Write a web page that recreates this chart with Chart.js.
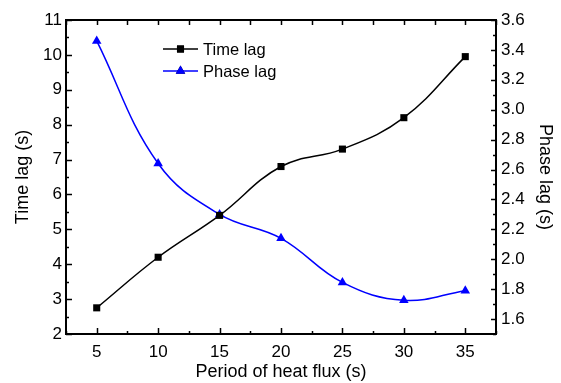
<!DOCTYPE html>
<html>
<head>
<meta charset="utf-8">
<script src="https://cdn.jsdelivr.net/npm/chart.js@4.4.1/dist/chart.umd.min.js"></script>
<style>
  html, body { margin: 0; padding: 0; background: #fff; }
  #wrap { width: 561px; height: 383px; }
</style>
</head>
<body>
<div id="wrap"><canvas id="grafico"></canvas></div>
<script>
// Datos
const periodos = [5, 10, 15, 20, 25, 30, 35];
const timeLag = [2.75, 4.2, 5.4, 6.8, 7.3, 8.2, 9.95];
const phaseLag = [3.46, 2.64, 2.30, 2.14, 1.845, 1.725, 1.79];

const xTicks = [5, 10, 15, 20, 25, 30, 35];
const yLeftTicks = [2, 3, 4, 5, 6, 7, 8, 9, 10, 11];
const yRightTicks = [1.6, 1.8, 2.0, 2.2, 2.4, 2.6, 2.8, 3.0, 3.2, 3.4, 3.6];

const FUENTE = "'Liberation Sans', Arial, sans-serif";

// Marco, ticks hacia dentro (mayores y menores) y leyenda
const marcoPlugin = {
    id: 'marco',
    afterDatasetsDraw(chart) {
        const { ctx, chartArea: a, scales } = chart;
        ctx.save();
        ctx.strokeStyle = '#000';
        ctx.lineWidth = 1.5;

        const tick = (x1, y1, x2, y2) => {
            ctx.beginPath();
            ctx.moveTo(x1, y1);
            ctx.lineTo(x2, y2);
            ctx.stroke();
        };

        // eje x (abajo y arriba)
        for (let v = 2.5; v <= 37.5; v += 2.5) {
            const px = Math.round(scales.x.getPixelForValue(v)) + 0.5;
            const major = v % 5 === 0;
            tick(px, a.bottom, px, a.bottom - (major ? 6 : 3));
            tick(px, a.top, px, a.top + 5);
        }
        // eje izquierdo
        for (let v = 2; v <= 11; v += 0.5) {
            const py = Math.round(scales.y.getPixelForValue(v)) + 0.5;
            const major = Number.isInteger(v);
            tick(a.left, py, a.left + (major ? 6 : 3), py);
        }
        // eje derecho
        for (let i = 15; i <= 36; i++) {
            const v = i / 10;
            const py = Math.round(scales.y2.getPixelForValue(v)) + 0.5;
            const major = i % 2 === 0;
            tick(a.right, py, a.right - (major ? 5 : 3), py);
        }

        // marco
        ctx.lineWidth = 2;
        ctx.strokeRect(a.left, a.top, a.right - a.left, a.bottom - a.top);

        // leyenda
        const filas = [
            { texto: 'Time lag', color: '#000', forma: 'rect', y: 49 },
            { texto: 'Phase lag', color: '#0000ff', forma: 'triangle', y: 71 }
        ];
        filas.forEach(f => {
            ctx.strokeStyle = f.color;
            ctx.lineWidth = 1.5;
            tick(163, f.y, 198, f.y);
            Chart.helpers.drawPoint(ctx, {
                pointStyle: f.forma,
                radius: f.forma === 'rect' ? 5 : 5.5,
                rotation: 0,
                borderWidth: 0
            }, 180.5, f.y);
            ctx.fillStyle = f.color;
            ctx.fill();
            ctx.fillStyle = '#000';
            ctx.font = '16.5px ' + FUENTE;
            ctx.textBaseline = 'middle';
            ctx.textAlign = 'left';
            ctx.fillText(f.texto, 203, f.y + 1);
        });
        ctx.restore();
    }
};

const ctx = document.getElementById('grafico').getContext('2d');

new Chart(ctx, {
    type: 'line',
    data: {
        datasets: [
            {
                label: 'Time lag',
                data: periodos.map((p, i) => ({ x: p, y: timeLag[i] })),
                yAxisID: 'y',
                borderColor: '#000',
                backgroundColor: '#000',
                borderWidth: 1.5,
                pointStyle: 'rect',
                pointRadius: 5,
                pointBorderWidth: 0,
                tension: 0.4
            },
            {
                label: 'Phase lag',
                data: periodos.map((p, i) => ({ x: p, y: phaseLag[i] })),
                yAxisID: 'y2',
                borderColor: '#0000ff',
                backgroundColor: '#0000ff',
                borderWidth: 1.5,
                pointStyle: 'triangle',
                pointRadius: 5.5,
                pointBorderWidth: 0,
                tension: 0.4
            }
        ]
    },
    options: {
        responsive: true,
        maintainAspectRatio: false,
        animation: false,
        layout: { padding: { top: 20, left: 0, right: 0, bottom: 0 } },
        plugins: {
            legend: { display: false },
            tooltip: { enabled: false }
        },
        scales: {
            x: {
                type: 'linear',
                min: 2.5,
                max: 37.5,
                afterBuildTicks: axis => { axis.ticks = xTicks.map(v => ({ value: v })); },
                afterFit: axis => { axis.height = 49; },
                grid: { display: false, drawTicks: false },
                border: { display: false },
                ticks: { color: '#000', padding: 8, font: { family: FUENTE, size: 17 } },
                title: {
                    display: true,
                    text: 'Period of heat flux (s)',
                    color: '#000',
                    font: { family: FUENTE, size: 18 },
                    padding: { top: 0, bottom: 0 }
                }
            },
            y: {
                position: 'left',
                min: 2,
                max: 11,
                afterBuildTicks: axis => { axis.ticks = yLeftTicks.map(v => ({ value: v })); },
                afterFit: axis => { axis.width = 66; },
                grid: { display: false, drawTicks: false },
                border: { display: false },
                ticks: { color: '#000', padding: 4, font: { family: FUENTE, size: 17 } },
                title: {
                    display: true,
                    text: 'Time lag (s)',
                    color: '#000',
                    font: { family: FUENTE, size: 18 },
                    padding: { top: 12, bottom: 0 }
                }
            },
            y2: {
                position: 'right',
                min: 1.5,
                max: 3.6,
                afterBuildTicks: axis => { axis.ticks = yRightTicks.map(v => ({ value: v })); },
                afterFit: axis => { axis.width = 65; },
                grid: { display: false, drawTicks: false },
                border: { display: false },
                ticks: {
                    color: '#000',
                    padding: 5,
                    font: { family: FUENTE, size: 17 },
                    callback: v => v.toFixed(1)
                },
                title: {
                    display: true,
                    text: 'Phase lag (s)',
                    color: '#000',
                    font: { family: FUENTE, size: 18 },
                    padding: { top: 5, bottom: 0 }
                }
            }
        }
    },
    plugins: [marcoPlugin]
});
</script>
</body>
</html>
